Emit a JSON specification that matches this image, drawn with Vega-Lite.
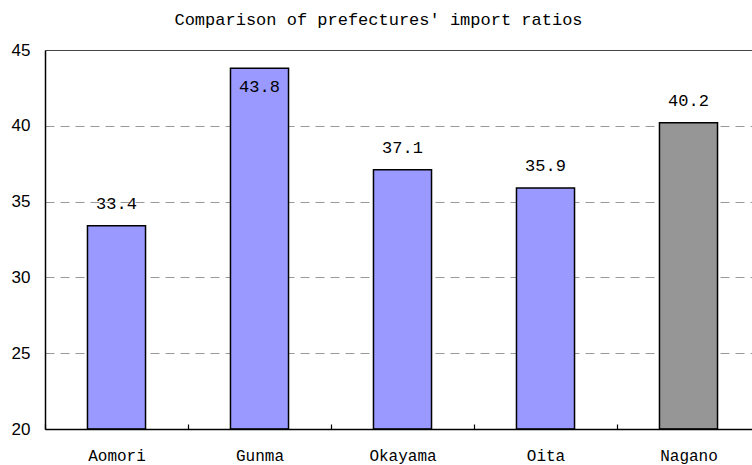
{
  "$schema": "https://vega.github.io/schema/vega-lite/v6.json",
  "width": 707,
  "height": 379,
  "autosize": "none",
  "padding": {"left": 45, "top": 50, "right": 0, "bottom": 36},
  "background": "white",
  "title": {
    "text": "Comparison of prefectures' import ratios",
    "font": "Liberation Mono",
    "fontSize": 17,
    "fontWeight": "normal",
    "color": "black",
    "anchor": "middle",
    "dx": -20,
    "offset": 12
  },
  "data": {
    "values": [
      {"prefecture": "Aomori", "ratio": 33.4, "group": "other"},
      {"prefecture": "Gunma", "ratio": 43.8, "group": "other"},
      {"prefecture": "Okayama", "ratio": 37.1, "group": "other"},
      {"prefecture": "Oita", "ratio": 35.9, "group": "other"},
      {"prefecture": "Nagano", "ratio": 40.2, "group": "Nagano"}
    ]
  },
  "encoding": {
    "x": {
      "field": "prefecture",
      "type": "nominal",
      "sort": null,
      "scale": {"range": [0, 715], "paddingInner": 0, "paddingOuter": 0},
      "axis": {
        "title": null,
        "labelAngle": 0,
        "labelOverlap": false,
        "labelFont": "Liberation Mono",
        "labelFontSize": 16,
        "labelColor": "black",
        "labelPadding": 23,
        "domainColor": "black",
        "domainWidth": 1.5,
        "tickBand": "extent",
        "tickSize": -5,
        "tickColor": "black",
        "tickWidth": 1.2,
        "grid": false,
        "zindex": 1
      }
    },
    "y": {
      "field": "ratio",
      "type": "quantitative",
      "scale": {"domain": [20, 45], "nice": false, "zero": false},
      "axis": {
        "title": null,
        "values": [20, 25, 30, 35, 40, 45],
        "ticks": false,
        "labelFont": "Liberation Sans",
        "labelFontSize": 17,
        "labelColor": "black",
        "labelPadding": 15,
        "domainColor": "black",
        "domainWidth": 1.5,
        "grid": true,
        "gridColor": {"condition": {"test": "datum.value === 45", "value": "#444444"}, "value": "#999999"},
        "gridDash": {"condition": {"test": "datum.value === 45", "value": []}, "value": [9, 6]},
        "gridWidth": 1
      }
    }
  },
  "layer": [
    {
      "mark": {"type": "bar", "width": {"band": 0.406}, "stroke": "black", "strokeWidth": 1.5},
      "encoding": {
        "y2": {"datum": 20},
        "color": {
          "field": "group",
          "type": "nominal",
          "scale": {"domain": ["other", "Nagano"], "range": ["#9999FF", "#969696"]},
          "legend": null
        }
      }
    },
    {
      "transform": [{"filter": "datum.ratio < 43"}],
      "mark": {"type": "text", "baseline": "bottom", "dy": -13, "font": "Liberation Mono", "fontSize": 17, "color": "black"},
      "encoding": {"text": {"field": "ratio", "type": "quantitative", "format": ".1f"}}
    },
    {
      "transform": [{"filter": "datum.ratio >= 43"}],
      "mark": {"type": "text", "baseline": "top", "dy": 11, "font": "Liberation Mono", "fontSize": 17, "color": "black"},
      "encoding": {"text": {"field": "ratio", "type": "quantitative", "format": ".1f"}}
    }
  ]
}
